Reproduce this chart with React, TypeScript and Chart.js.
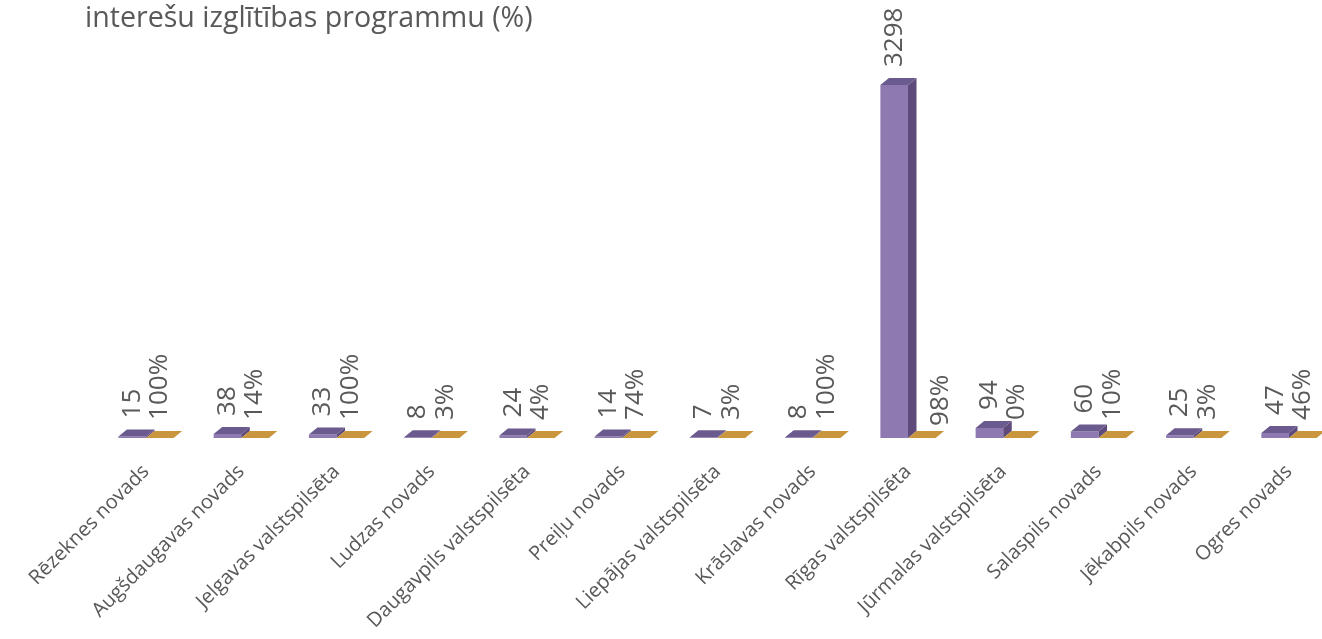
import React, { useEffect, useRef } from "react";
import { Chart, registerables } from "chart.js";

Chart.register(...registerables);

const titleText = "interešu izglītības programmu (%)";
const categories = [
  "Rēzeknes novads",
  "Augšdaugavas novads",
  "Jelgavas valstspilsēta",
  "Ludzas novads",
  "Daugavpils valstspilsēta",
  "Preiļu novads",
  "Liepājas valstspilsēta",
  "Krāslavas novads",
  "Rīgas valstspilsēta",
  "Jūrmalas valstspilsēta",
  "Salaspils novads",
  "Jēkabpils novads",
  "Ogres novads",
];
const counts = [15, 38, 33, 8, 24, 14, 7, 8, 3298, 94, 60, 25, 47];
const shares = [1.0, 0.14, 1.0, 0.03, 0.04, 0.74, 0.03, 1.0, 0.98, 0.0, 0.1, 0.03, 0.46];

const FONT = "'Open Sans', sans-serif";
const TEXT = "#595959";
const DX = 8.5;
const DY = 7;

const faceColors = [
  { side: "#5E4B7B", top: "#6B5A8E" },
  { side: "#B8862F", top: "#C9963E" },
];

const bar3d = {
  id: "bar3d",
  afterDatasetsDraw(chart: any) {
    const ctx = chart.ctx;
    ctx.save();
    chart.data.datasets.forEach((_: any, di: number) => {
      const meta = chart.getDatasetMeta(di);
      const c = faceColors[di];
      meta.data.forEach((el: any) => {
        const { x, y, base, width } = el.getProps(["x", "y", "base", "width"], true);
        const l = x - width / 2;
        const r = x + width / 2;
        const top = Math.min(y, base);
        const bottom = base;
        ctx.fillStyle = c.side;
        ctx.beginPath();
        ctx.moveTo(r, top);
        ctx.lineTo(r + DX, top - DY);
        ctx.lineTo(r + DX, bottom - DY);
        ctx.lineTo(r, bottom);
        ctx.closePath();
        ctx.fill();
        ctx.fillStyle = c.top;
        ctx.beginPath();
        ctx.moveTo(l, top);
        ctx.lineTo(l + DX, top - DY);
        ctx.lineTo(r + DX, top - DY);
        ctx.lineTo(r, top);
        ctx.closePath();
        ctx.fill();
      });
    });
    ctx.restore();
  },
};

const labels = {
  id: "valueLabels",
  afterDraw(chart: any) {
    const ctx = chart.ctx;
    ctx.save();
    ctx.font = `26px ${FONT}`;
    ctx.fillStyle = TEXT;
    ctx.textAlign = "left";
    ctx.textBaseline = "middle";
    const m0 = chart.getDatasetMeta(0);
    const m1 = chart.getDatasetMeta(1);
    const half = 10;
    m0.data.forEach((el: any, i: number) => {
      const p = el.getProps(["x", "y", "base", "width"], true);
      const yb = p.y - 18;
      ctx.save();
      ctx.translate(p.x, yb);
      ctx.rotate(-Math.PI / 2);
      ctx.fillText(String(counts[i]), 0, 0);
      ctx.restore();
    });
    m1.data.forEach((el: any, i: number) => {
      const p = el.getProps(["x", "y", "base", "width"], true);
      const q = m0.data[i].getProps(["x", "y", "base", "width"], true);
      let x = p.x;
      let yb = p.y - 18;
      const purpleRight = q.x + q.width / 2 + DX;
      if (q.y - DY < yb && purpleRight > x - half) {
        x = purpleRight + 14 + half;
        yb += 6;
      }
      ctx.save();
      ctx.translate(x, yb);
      ctx.rotate(-Math.PI / 2);
      ctx.fillText(Math.round(shares[i] * 100) + "%", 0, 0);
      ctx.restore();
    });
    ctx.font = `28.6px ${FONT}`;
    ctx.textAlign = "left";
    ctx.textBaseline = "alphabetic";
    ctx.fillText(titleText, 85, 27);
    ctx.restore();
  },
};

export default function App() {
  const ref = useRef<HTMLCanvasElement | null>(null);
  useEffect(() => {
    if (!ref.current) return;
    const chart = new Chart(ref.current, {
      type: "bar",
      data: {
        labels: categories,
        datasets: [
          {
            label: "Skaits",
            data: counts,
            backgroundColor: "#8E7AB1",
            borderWidth: 0,
            categoryPercentage: 0.58,
            barPercentage: 1,
          },
          {
            label: "%",
            data: shares,
            backgroundColor: "#C9963E",
            borderWidth: 0,
            categoryPercentage: 0.58,
            barPercentage: 1,
          },
        ],
      },
      options: {
        responsive: false,
        animation: false,
        layout: { padding: { left: 98.4, right: 23.4, top: 63.4, bottom: 0 } },
        plugins: {
          legend: { display: false },
          tooltip: { enabled: false },
          title: { display: false },
        },
        scales: {
          x: {
            grid: { display: false },
            border: { display: false },
            ticks: {
              autoSkip: false,
              minRotation: 45,
              maxRotation: 45,
              padding: 14,
              color: TEXT,
              font: { family: FONT, size: 20 },
            },
            afterFit(scale: any) {
              scale.height = 201;
            },
          },
          y: {
            display: false,
            min: 0,
            max: 3500,
          },
        },
      },
      plugins: [bar3d, labels],
    });
    return () => chart.destroy();
  }, []);
  return (
    <div style={{ position: "fixed", left: 0, top: 0, width: 1360, height: 639, background: "#fff" }}>
      <canvas ref={ref} width={1360} height={639} style={{ display: "block" }} />
    </div>
  );
}
